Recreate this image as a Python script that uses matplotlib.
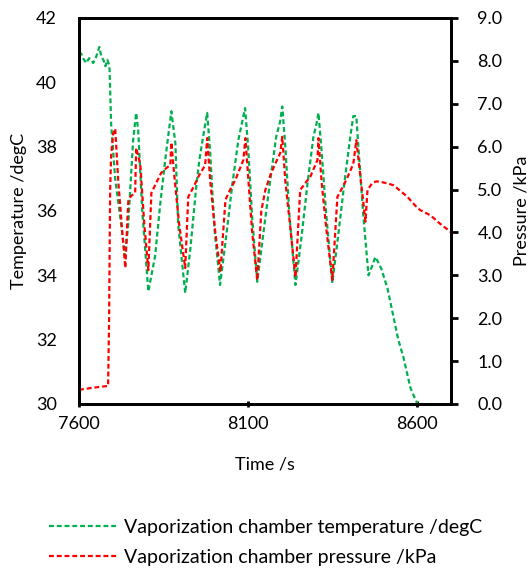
import matplotlib.pyplot as plt
import numpy as np

# x positions read in pixels were converted to seconds
temp_time = [7600, 7606, 7612, 7621, 7630, 7636, 7642, 7651, 7660, 7666,
             7672, 7678, 7684, 7690, 7695, 7707, 7722, 7736, 7745, 7760,
             7769, 7775, 7787, 7805, 7825, 7840, 7855, 7867, 7873, 7885,
             7893, 7914, 7929, 7947, 7956, 7970, 7979, 7988, 8000, 8017,
             8035, 8053, 8071, 8085, 8091, 8100, 8112, 8127, 8145, 8166,
             8183, 8195, 8201, 8210, 8222, 8240, 8258, 8275, 8293, 8302,
             8308, 8317, 8331, 8349, 8367, 8385, 8402, 8411, 8420, 8426,
             8441, 8456, 8467, 8476, 8485, 8494, 8512, 8530, 8544, 8559,
             8580, 8592, 8601]
temp_vals = [40.85, 40.9, 40.75, 40.6, 40.75, 40.7, 40.6, 40.8, 41.1, 40.8,
             40.7, 40.5, 40.7, 40.5, 38.7, 37.0, 35.8, 34.6, 35.5, 38.2,
             39.05, 38.5, 36.0, 33.5, 34.6, 36.2, 37.6, 38.6, 39.1, 38.1,
             35.6, 33.45, 34.8, 36.8, 37.6, 38.5, 39.05, 37.8, 35.5, 33.7,
             35.2, 36.8, 38.2, 38.9, 39.2, 38.0, 35.8, 33.8, 35.3, 37.0,
             38.3, 38.8, 39.25, 38.0, 35.9, 33.7, 35.2, 36.8, 38.3, 38.7,
             39.05, 37.9, 35.9, 33.76, 35.3, 36.9, 38.3, 38.95, 38.95, 38.0,
             35.8, 34.0, 34.3, 34.57, 34.4, 34.2, 33.6, 32.7, 32.0, 31.46,
             30.5, 30.2, 30.0]

pres_time = [7600, 7633, 7663, 7686, 7689, 7692, 7695, 7701, 7707, 7716,
             7728, 7737, 7743, 7746, 7754, 7766, 7769, 7781, 7793, 7805,
             7814, 7828, 7843, 7858, 7870, 7873, 7882, 7896, 7914, 7923,
             7938, 7953, 7973, 7979, 7988, 8003, 8018, 8033, 8047, 8062,
             8086, 8092, 8101, 8112, 8127, 8139, 8151, 8166, 8180, 8195,
             8201, 8210, 8225, 8240, 8254, 8269, 8284, 8305, 8308, 8317,
             8331, 8349, 8364, 8379, 8393, 8411, 8420, 8432, 8447, 8453,
             8467, 8479, 8491, 8509, 8530, 8550, 8571, 8595, 8609, 8639,
             8668, 8701]
pres_vals = [0.33, 0.37, 0.4, 0.42, 2.0, 5.0, 5.8, 6.3, 6.42, 5.2,
             4.0, 3.17, 4.3, 4.76, 4.85, 4.92, 5.97, 5.6, 4.2, 3.12,
             4.92, 5.15, 5.39, 5.5, 5.57, 6.1, 5.3, 4.2, 3.17, 4.83,
             5.05, 5.3, 5.57, 6.2, 5.2, 4.0, 3.08, 4.76, 5.0, 5.22,
             5.69, 6.2, 5.2, 4.0, 2.89, 4.5, 4.99, 5.34, 5.6, 5.85,
             6.23, 5.2, 4.1, 2.96, 4.99, 5.15, 5.3, 5.69, 6.2, 5.2,
             4.1, 2.89, 4.83, 5.05, 5.27, 5.6, 6.15, 5.3, 4.25, 4.99,
             5.15, 5.19, 5.18, 5.15, 5.1, 4.97, 4.83, 4.62, 4.52, 4.4,
             4.2, 4.0]

plt.rcParams['font.family'] = ['Lato', 'DejaVu Sans']

fig = plt.figure(figsize=(5.31, 5.75), dpi=100)
ax = fig.add_axes([0.1488, 0.2974, 0.7006, 0.6713])
ax2 = ax.twinx()

dash = (0, (2.2, 1.3))
l1, = ax.plot(temp_time, temp_vals, color='#00B050', lw=1.6, linestyle=dash)
l2, = ax2.plot(pres_time, pres_vals, color='#FF0000', lw=1.6, linestyle=dash)

ax.set_xlim(7600, 8700)
ax.set_ylim(30, 42)
ax2.set_ylim(0, 9)
ax.set_xticks([7600, 8100, 8600])
ax.set_yticks(np.arange(30, 43, 2))
ax2.set_yticks(np.arange(0, 10, 1))
ax2.set_yticklabels(['%.1f' % v for v in np.arange(0, 10, 1)])

for a in (ax, ax2):
    for s in a.spines.values():
        s.set_linewidth(2)
ax.tick_params(axis='y', length=0, labelsize=13, pad=16)
ax.tick_params(axis='x', length=5, width=2, direction='inout', labelsize=13, pad=6)
ax2.tick_params(axis='y', length=5, width=2, direction='out', labelsize=13, pad=14)

ax.set_xlabel('Time /s', fontsize=13, labelpad=18)
ax.set_ylabel('Temperature /degC', fontsize=13, labelpad=6)
ax2.set_ylabel('Pressure /kPa', fontsize=13, labelpad=8)

fig.legend([l1, l2], ['Vaporization chamber temperature /degC',
                      'Vaporization chamber pressure /kPa'],
           loc='lower center', bbox_to_anchor=(0.5, -0.014), frameon=False,
           fontsize=14, handlelength=3.5, handletextpad=0.4,
           labelspacing=0.65)

fig.savefig('out.png', dpi=100)
